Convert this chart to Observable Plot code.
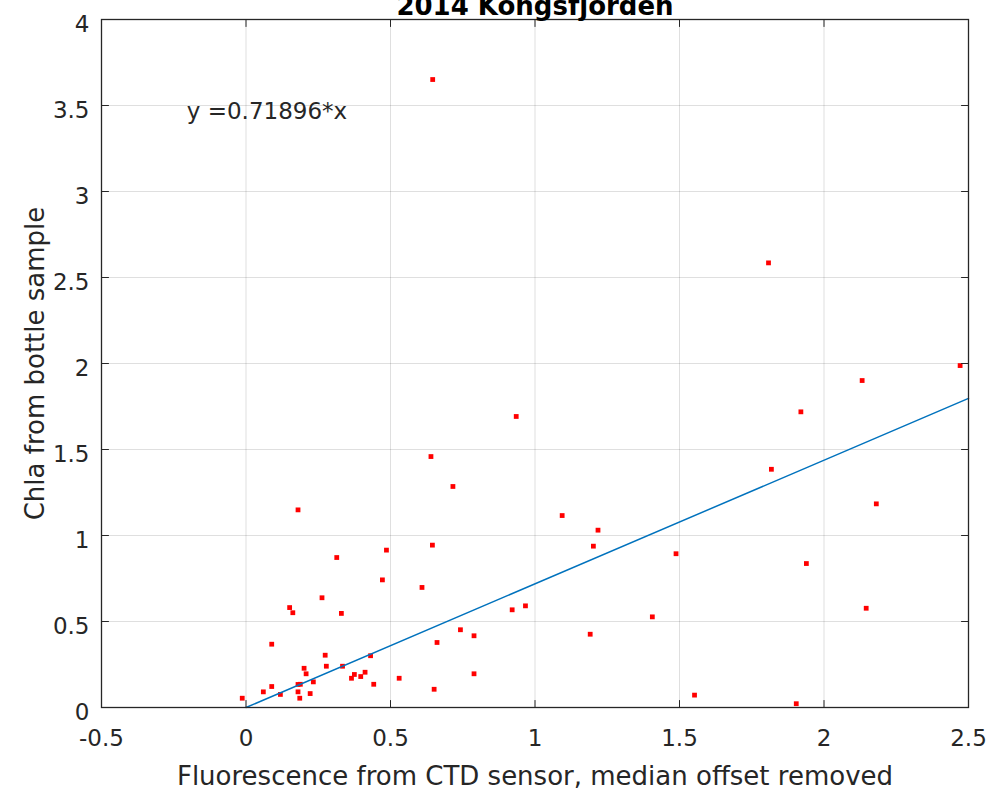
<!DOCTYPE html>
<html>
<head>
<meta charset="utf-8">
<script src="https://cdn.jsdelivr.net/npm/d3@7"></script>
<script src="https://cdn.jsdelivr.net/npm/@observablehq/plot@0.6"></script>
<style>
  html, body { margin: 0; padding: 0; background: #ffffff; }
</style>
</head>
<body>
<div id="chart"></div>
<script>
// Data
const fluorescence = [
  -0.013, 0.060, 0.089, 0.119, 0.089, 0.151, 0.162, 0.180, 0.188, 0.180,
  0.186, 0.201, 0.208, 0.233, 0.222, 0.274, 0.278, 0.263, 0.314, 0.330,
  0.334, 0.365, 0.375, 0.397, 0.412, 0.431, 0.442, 0.472, 0.486, 0.530,
  0.609, 0.645, 0.661, 0.651, 0.742, 0.789, 0.789, 0.180, 0.935, 0.640,
  0.716, 1.094, 1.218, 1.202, 1.488, 0.921, 0.967, 1.406, 1.191, 1.552,
  1.808, 2.471, 2.132, 1.920, 1.818, 2.181, 1.939, 2.146, 1.904, 0.646
];
const chla = [
  0.054, 0.091, 0.122, 0.076, 0.368, 0.581, 0.551, 0.134, 0.135, 0.091,
  0.054, 0.228, 0.196, 0.149, 0.081, 0.304, 0.240, 0.638, 0.872, 0.547,
  0.240, 0.170, 0.192, 0.180, 0.205, 0.301, 0.135, 0.742, 0.915, 0.170,
  0.698, 0.944, 0.378, 0.106, 0.452, 0.417, 0.196, 1.149, 1.692, 1.459,
  1.285, 1.116, 1.031, 0.938, 0.894, 0.568, 0.591, 0.527, 0.426, 0.072,
  2.585, 1.988, 1.901, 1.719, 1.385, 1.184, 0.837, 0.577, 0.022, 3.651
];
const slope = 0.71896;
const fitX = [0, 2.5];
const xTicks = [-0.5, 0, 0.5, 1, 1.5, 2, 2.5];
const yTicks = [0, 0.5, 1, 1.5, 2, 2.5, 3, 3.5, 4];
const titleText = "2014 Kongsfjorden";
const xLabel = "Fluorescence from CTD sensor, median offset removed";
const yLabel = "Chla from bottle sample";
const eqText = "y =" + slope + "*x";

const points = fluorescence.map((x, i) => ({x, y: chla[i]}));
const fitLine = fitX.map(x => ({x, y: slope * x}));

const axisColor = "#262626";
const tickShape = { draw(context, l) { context.moveTo(0, 0); context.lineTo(0, -l); } };
const tickOpts = { length: 7, anchor: "start", shape: tickShape, stroke: axisColor, strokeWidth: 1 };

const chart = Plot.plot({
  width: 993,
  height: 792,
  marginLeft: 101,
  marginRight: 25,
  marginTop: 19,
  marginBottom: 85,
  style: { fontFamily: "DejaVu Sans", background: "#ffffff", color: axisColor },
  x: { domain: [-0.5, 2.5] },
  y: { domain: [0, 4] },
  marks: [
    Plot.gridX(xTicks, { stroke: axisColor, strokeOpacity: 0.15, strokeWidth: 1 }),
    Plot.gridY(yTicks, { stroke: axisColor, strokeOpacity: 0.15, strokeWidth: 1 }),
    Plot.dot(points, { x: "x", y: "y", symbol: "square", r: 2.7, fill: "#ff0000", stroke: "none" }),
    Plot.line(fitLine, { x: "x", y: "y", stroke: "#0072BD", strokeWidth: 1.5 }),
    Plot.frame({ stroke: axisColor, strokeWidth: 1.3 }),
    Plot.vector(xTicks, { x: d => d, frameAnchor: "bottom", rotate: 0, ...tickOpts }),
    Plot.vector(xTicks, { x: d => d, frameAnchor: "top", rotate: 180, ...tickOpts }),
    Plot.vector(yTicks, { y: d => d, frameAnchor: "left", rotate: 90, ...tickOpts }),
    Plot.vector(yTicks, { y: d => d, frameAnchor: "right", rotate: -90, ...tickOpts }),
    Plot.axisX(xTicks, { tickSize: 0, tickPadding: 22, tickFormat: d => String(d), fontSize: 23, fill: axisColor, label: null }),
    Plot.axisY(yTicks, { tickSize: 0, tickPadding: 12, dy: 5, tickFormat: d => String(d), fontSize: 23, fill: axisColor, label: null }),
    Plot.text([eqText], { text: d => d, x: () => -0.205, y: () => 3.465, textAnchor: "start", lineAnchor: "middle", fontSize: 23, fill: axisColor }),
    Plot.text([xLabel], { text: d => d, frameAnchor: "bottom", textAnchor: "middle", lineAnchor: "bottom", dy: 77, fontSize: 26, fill: axisColor }),
    Plot.text([yLabel], { text: d => d, frameAnchor: "left", textAnchor: "middle", lineAnchor: "bottom", rotate: -90, dx: -58, fontSize: 26, fill: axisColor }),
    Plot.text([titleText], { text: d => d, frameAnchor: "top", textAnchor: "middle", lineAnchor: "bottom", dy: -4.5, fontSize: 26, fontWeight: "bold", fill: "#000000" })
  ]
});
document.getElementById("chart").appendChild(chart);
</script>
</body>
</html>
